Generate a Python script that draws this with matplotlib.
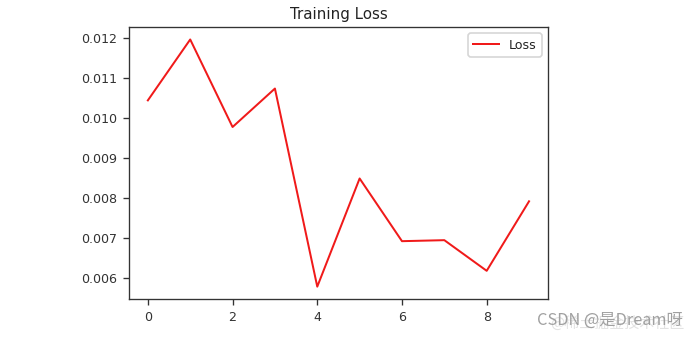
import matplotlib
matplotlib.use("Agg")
import matplotlib.pyplot as plt

# training loss per epoch
epochs = [0, 1, 2, 3, 4, 5, 6, 7, 8, 9]
loss = [0.01044, 0.01196, 0.009775, 0.010735, 0.00579, 0.00849, 0.006925, 0.00695, 0.006185, 0.00792]


def main():
    plt.rcParams["font.size"] = 7.6
    plt.rcParams["axes.titlesize"] = 9
    plt.rcParams["axes.edgecolor"] = "#333333"
    plt.rcParams["xtick.color"] = "#333333"
    plt.rcParams["ytick.color"] = "#333333"
    plt.rcParams["text.color"] = "#222222"

    fig = plt.figure(figsize=(700 / 120, 339 / 120), dpi=120)
    ax = fig.add_axes([0.184, 0.118, 0.599, 0.802])

    ax.plot(epochs, loss, color="#f01a1a", lw=1.2, label="Loss")
    ax.set_title("Training Loss", pad=5)
    ax.legend(loc="upper right")

    # site watermark in the lower right corner
    fig.text(0.978, 0.045, "@稀土掘金技术社区", ha="right", va="center", color="#cfcfcf",
             fontsize=9, family=["Noto Sans CJK SC", "DejaVu Sans"], alpha=0.6)
    fig.text(0.975, 0.055, "CSDN @是Dream呀", ha="right", va="center", color="#a0a0a0",
             fontsize=9.8, family=["Noto Sans CJK SC", "DejaVu Sans"])

    fig.savefig("out.png", dpi=120)


if __name__ == "__main__":
    main()
